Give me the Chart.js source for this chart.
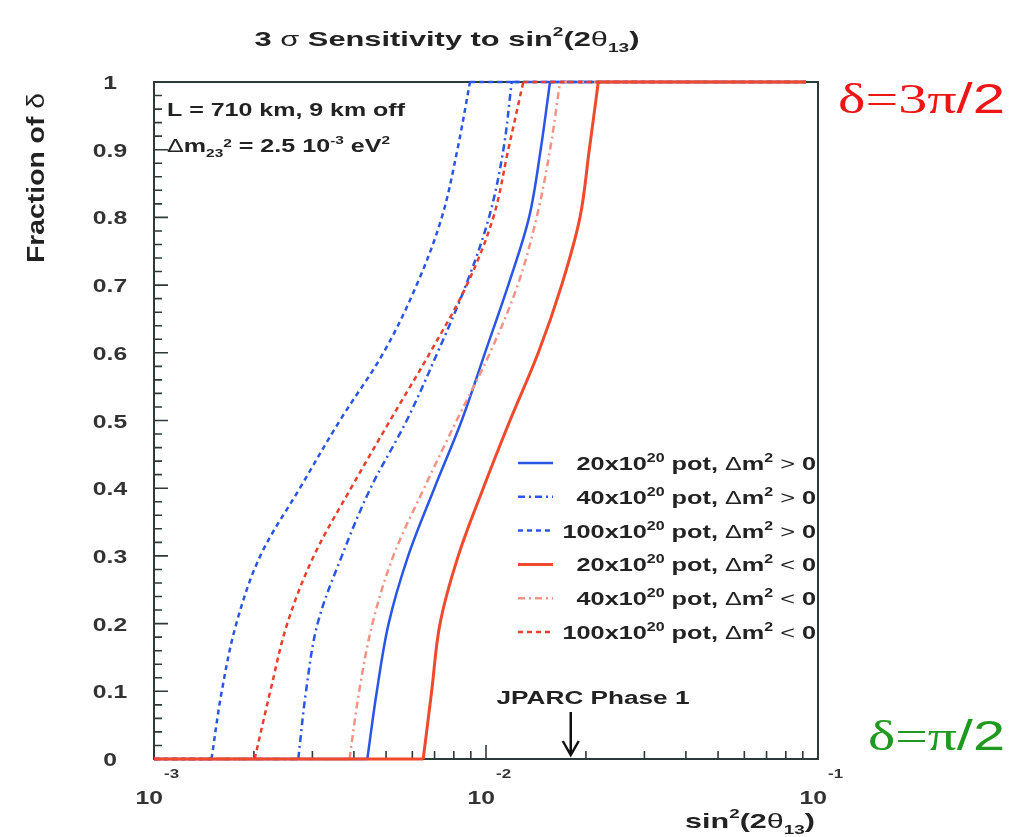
<!DOCTYPE html>
<html lang="en">
<head>
<meta charset="UTF-8">
<title>3 sigma Sensitivity to sin2(2theta13)</title>
<script src="https://cdn.jsdelivr.net/npm/chart.js@4.4.1/dist/chart.umd.min.js"></script>
<style>
  body { margin: 0; background: #fff; }
</style>
</head>
<body>
<canvas id="myChart" width="1015" height="837"></canvas>
<script>
// fraction of delta covered (y axis)
var fractions = [0, 0.1, 0.2, 0.3, 0.4, 0.5, 0.6, 0.7, 0.8, 0.9, 1];

// sin^2(2 theta13) reach for each fraction
var pos20  = [4.39e-3, 4.69e-3, 5.09e-3, 5.83e-3, 6.99e-3, 8.45e-3, 9.93e-3, 1.167e-2, 1.348e-2, 1.461e-2, 1.559e-2];
var pos40  = [2.72e-3, 2.87e-3, 3.11e-3, 3.68e-3, 4.49e-3, 5.77e-3, 7.14e-3, 8.70e-3, 1.021e-2, 1.128e-2, 1.195e-2];
var pos100 = [1.49e-3, 1.60e-3, 1.77e-3, 2.09e-3, 2.75e-3, 3.63e-3, 4.91e-3, 6.18e-3, 7.36e-3, 8.20e-3, 8.95e-3];
var neg20  = [6.47e-3, 6.86e-3, 7.27e-3, 8.25e-3, 9.81e-3, 1.181e-2, 1.437e-2, 1.69e-2, 1.919e-2, 2.047e-2, 2.179e-2];
var neg40  = [3.88e-3, 4.15e-3, 4.55e-3, 5.26e-3, 6.51e-3, 8.16e-3, 1.028e-2, 1.246e-2, 1.421e-2, 1.559e-2, 1.671e-2];
var neg100 = [2.01e-3, 2.24e-3, 2.52e-3, 3.03e-3, 3.92e-3, 5.14e-3, 6.78e-3, 8.75e-3, 1.052e-2, 1.167e-2, 1.295e-2];

var xMin = 1e-3, xMax = 1e-1;
var plateauEnd = 0.092;     // the fraction = 1 line stops here
var jparcPhase1 = 0.018;    // arrow position

var xTickValues = [1e-3, 1e-2, 1e-1];
var xTickExps = ['-3', '-2', '-1'];
var legendPot = ['20', '40', '100', '20', '40', '100'];
var legendSign = ['>', '>', '>', '<', '<', '<'];

var BLUE = '#2a56e6';
var RED = '#ef4a2c';
var RED_DASH = '#e9402c';
var PINK = '#f29385';
var FRAME = '#2d3a3a';
var SANS = '"Liberation Sans", Arial, sans-serif';
var SERIF = '"Liberation Serif", "Times New Roman", serif';

// flat piece at 0, the curve itself, flat piece at 1 (gaps keep the corners sharp)
function makeSeries(vals) {
    var last = vals.length - 1;
    var pts = [{x: xMin, y: 0}, {x: vals[0], y: 0}, {x: vals[0], y: null}];
    vals.forEach(function(v, i) { pts.push({x: v, y: fractions[i]}); });
    pts.push({x: vals[last], y: null}, {x: vals[last], y: 1}, {x: plateauEnd, y: 1});
    return pts;
}

var styles = [
    {data: pos20,  color: BLUE,     dash: [],            width: 2.5, order: 3},
    {data: pos40,  color: BLUE,     dash: [7, 4, 2, 4],  width: 2.5, order: 5},
    {data: pos100, color: BLUE,     dash: [5, 4],        width: 2.5, order: 6},
    {data: neg20,  color: RED,      dash: [],            width: 3,   order: 0},
    {data: neg40,  color: PINK,     dash: [7, 4, 2, 4],  width: 2.5, order: 2},
    {data: neg100, color: RED_DASH, dash: [5, 4],        width: 2.5, order: 1}
];

// ---- text helpers (runs with sub/superscripts) ----
function runFont(r, size) {
    var s = (r.sub || r.sup) ? Math.round(size * 0.62) : size;
    return (r.light ? 'normal ' : 'bold ') + s + 'px ' + (r.serif ? SERIF : SANS);
}
function measureRuns(ctx, runs, size) {
    var w = 0;
    runs.forEach(function(r) { ctx.font = runFont(r, size); w += ctx.measureText(r.t).width; });
    return w;
}
function drawRuns(ctx, runs, x, y, size, o) {
    o = o || {};
    var natural = measureRuns(ctx, runs, size);
    var sx = o.width ? o.width / natural : (o.sx || 1);
    var total = natural * sx;
    ctx.save();
    ctx.translate(x, y);
    if (o.angle) ctx.rotate(o.angle);
    var start = o.align === 'center' ? -total / 2 : (o.align === 'right' ? -total : 0);
    ctx.translate(start, 0);
    ctx.scale(sx, 1);
    ctx.textAlign = 'left';
    ctx.textBaseline = 'alphabetic';
    var cx = 0;
    runs.forEach(function(r) {
        ctx.font = runFont(r, size);
        ctx.fillStyle = r.color || o.color || '#222';
        var dy = r.sup ? -size * (r.raise || 0.42) : (r.sub ? size * 0.28 : 0);
        ctx.fillText(r.t, cx, dy);
        cx += ctx.measureText(r.t).width;
    });
    ctx.restore();
}

var framePlugin = {
    id: 'frame',
    beforeDatasetsDraw: function(chart) {
        var ctx = chart.ctx, a = chart.chartArea;
        var xs = chart.scales.x, ys = chart.scales.y;
        ctx.save();
        ctx.strokeStyle = FRAME;
        ctx.lineWidth = 2;
        ctx.strokeRect(a.left, a.top, a.right - a.left, a.bottom - a.top);
        ctx.lineWidth = 1.6;
        ctx.beginPath();
        // y ticks, drawn inward
        for (var k = 0; k <= 50; k++) {
            var py = ys.getPixelForValue(k / 50);
            var len = (k % 5 === 0) ? 14 : 8;
            ctx.moveTo(a.left, py);
            ctx.lineTo(a.left + len, py);
        }
        // x ticks, drawn inward
        for (var d = -3; d <= -2; d++) {
            for (var m = 1; m <= 9; m++) {
                var v = m * Math.pow(10, d);
                var px = xs.getPixelForValue(v);
                var l2 = (m === 1) ? 14 : 8;
                ctx.moveTo(px, a.bottom);
                ctx.lineTo(px, a.bottom - l2);
            }
        }
        ctx.stroke();
        ctx.restore();
    },
    afterDraw: function(chart) {
        var ctx = chart.ctx;
        var xs = chart.scales.x, ys = chart.scales.y;

        // title
        drawRuns(ctx, [
            {t: '3 '}, {t: 'σ', light: true}, {t: ' Sensitivity to sin'}, {t: '2', sup: true, raise: 0.5},
            {t: '(2'}, {t: 'θ', light: true}, {t: '13', sub: true}, {t: ')'}
        ], 447, 46, 21, {align: 'center', width: 385});

        // y tick labels
        ys.ticks.forEach(function(t) {
            var lab = String(+t.value.toFixed(1));
            drawRuns(ctx, [{t: lab}], 110, ys.getPixelForValue(t.value) + 7, 19, {align: 'center', sx: 1.3, color: '#333'});
        });

        // x tick labels
        xTickValues.forEach(function(v, i) {
            var px = xs.getPixelForValue(v);
            drawRuns(ctx, [{t: '10'}], px + 9, 804, 19, {align: 'right', sx: 1.3, color: '#333'});
            drawRuns(ctx, [{t: xTickExps[i]}], px + 10, 778, 13, {sx: 1.3, color: '#333'});
        });

        // axis titles
        drawRuns(ctx, [
            {t: 'sin'}, {t: '2', sup: true, raise: 0.5}, {t: '(2'}, {t: 'θ', light: true}, {t: '13', sub: true}, {t: ')'}
        ], 815, 828, 21, {align: 'right', width: 130});
        drawRuns(ctx, [{t: 'Fraction of '}, {t: 'δ', light: true}], 44, 93, 24,
            {align: 'right', width: 170, angle: -Math.PI / 2});

        // info box
        drawRuns(ctx, [{t: 'L = 710 km, 9 km off'}], 167, 116, 18, {width: 238});
        drawRuns(ctx, [
            {t: 'Δ', light: true}, {t: 'm'}, {t: '23', sub: true}, {t: '2', sup: true, raise: 0.3},
            {t: ' = 2.5 10'}, {t: '-3', sup: true}, {t: ' eV'}, {t: '2', sup: true}
        ], 167, 152, 18, {width: 223});

        // legend
        styles.forEach(function(s, i) {
            var ly = 463 + i * 33.8;
            ctx.save();
            ctx.strokeStyle = s.color;
            ctx.lineWidth = s.width;
            ctx.setLineDash(s.dash);
            ctx.beginPath();
            ctx.moveTo(518, ly);
            ctx.lineTo(553, ly);
            ctx.stroke();
            ctx.restore();
            drawRuns(ctx, [
                {t: legendPot[i] + 'x10'}, {t: '20', sup: true}, {t: ' pot, '}, {t: 'Δ', light: true},
                {t: 'm'}, {t: '2', sup: true}, {t: ' ' + legendSign[i] + ' ', light: true}, {t: '0'}
            ], 816, ly + 7, 19, {align: 'right', sx: 1.33});
        });

        // JPARC Phase 1 arrow
        var ax = xs.getPixelForValue(jparcPhase1);
        drawRuns(ctx, [{t: 'JPARC Phase 1'}], 593, 704, 18, {align: 'center', width: 193});
        ctx.save();
        ctx.strokeStyle = '#111';
        ctx.lineWidth = 2.5;
        ctx.beginPath();
        ctx.moveTo(ax, 712);
        ctx.lineTo(ax, 755);
        ctx.moveTo(ax - 8, 741);
        ctx.lineTo(ax, 755);
        ctx.lineTo(ax + 8, 741);
        ctx.stroke();
        ctx.restore();

        // delta labels on the right
        drawRuns(ctx, [{t: 'δ=3π', serif: true, light: true}, {t: '/2', light: true}], 838, 113, 42,
            {width: 167, color: '#ee1515'});
        drawRuns(ctx, [{t: 'δ=π', serif: true, light: true}, {t: '/2', light: true}], 868, 750, 42,
            {width: 137, color: '#1f9a1f'});
    }
};

var ctx = document.getElementById('myChart').getContext('2d');
var myChart = new Chart(ctx, {
    type: 'line',
    data: {
        datasets: styles.map(function(s) {
            return {
                data: makeSeries(s.data),
                borderColor: s.color,
                borderWidth: s.width,
                borderDash: s.dash,
                pointRadius: 0,
                tension: 0.35,
                spanGaps: false,
                fill: false,
                clip: false,
                order: s.order
            };
        })
    },
    options: {
        responsive: false,
        animation: false,
        layout: {padding: {top: 82, right: 197, bottom: 0, left: 0}},
        plugins: {
            legend: {display: false},
            tooltip: {enabled: false},
            title: {display: false}
        },
        scales: {
            x: {
                type: 'logarithmic',
                min: xMin,
                max: xMax,
                grid: {display: false, drawTicks: false},
                border: {display: false},
                ticks: {display: false},
                afterFit: function(s) { s.height = 78; }
            },
            y: {
                min: 0,
                max: 1,
                ticks: {display: false, stepSize: 0.1},
                grid: {display: false, drawTicks: false},
                border: {display: false},
                afterFit: function(s) { s.width = 154; }
            }
        }
    },
    plugins: [framePlugin]
});
</script>
</body>
</html>
